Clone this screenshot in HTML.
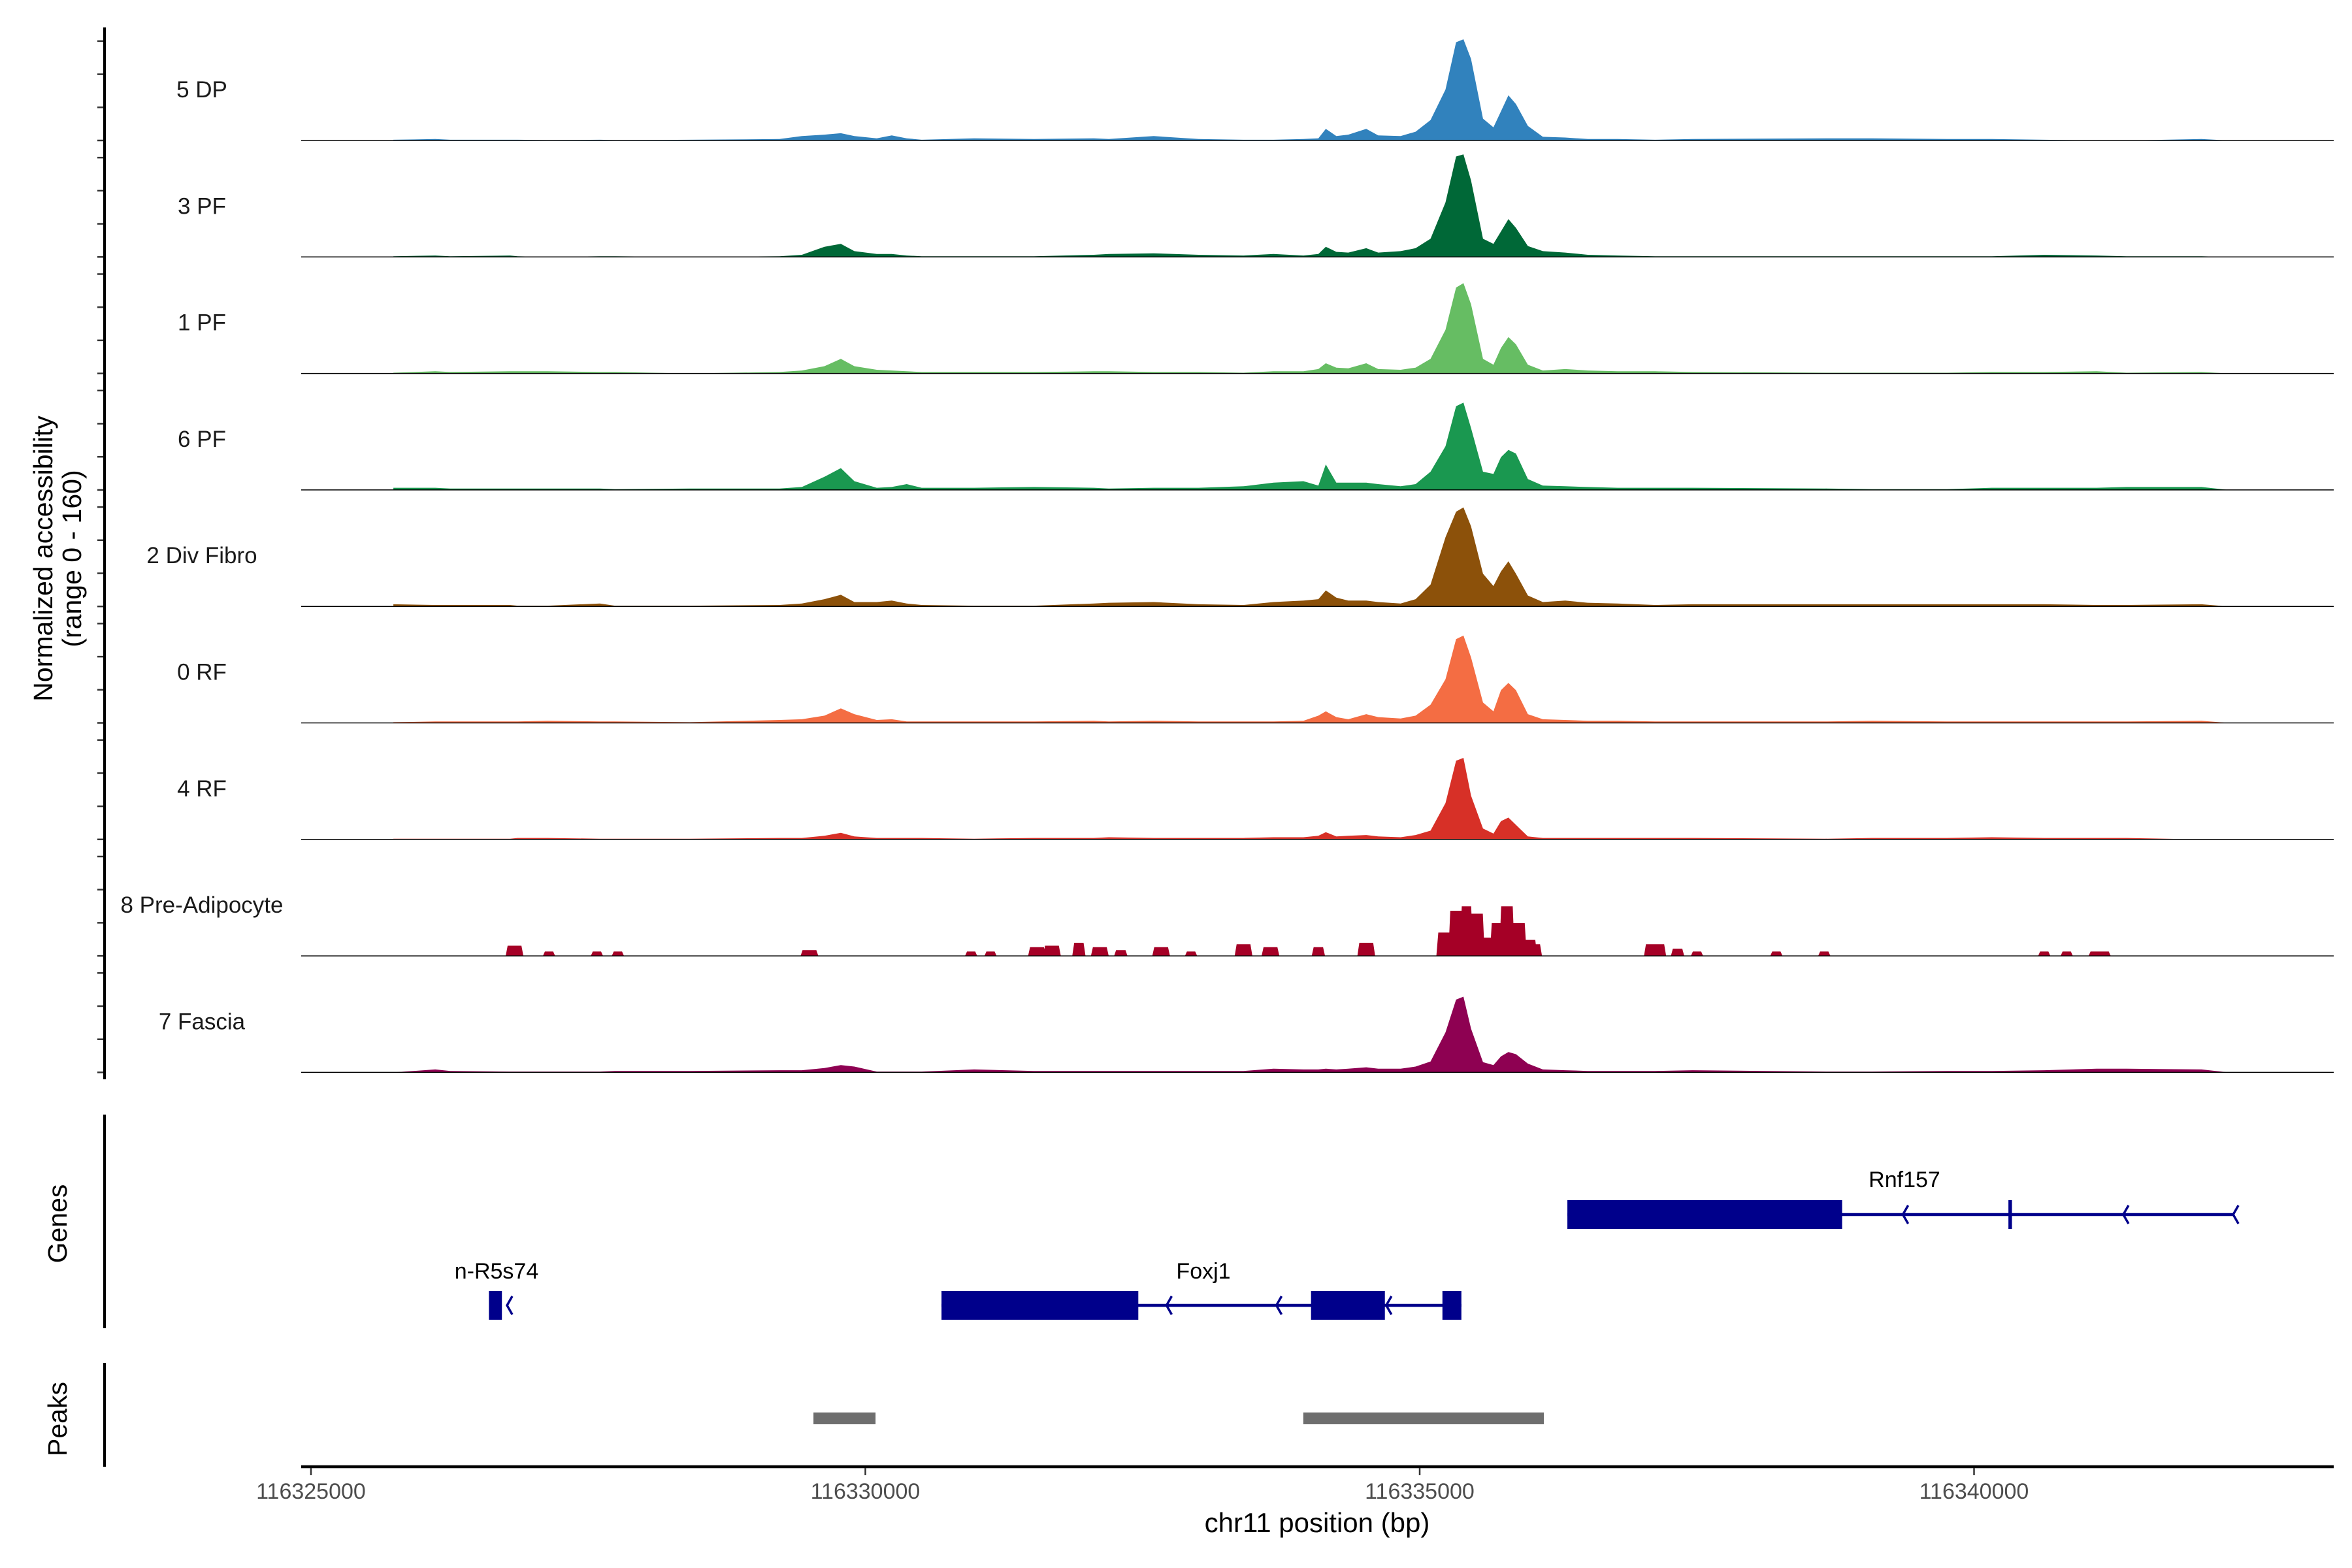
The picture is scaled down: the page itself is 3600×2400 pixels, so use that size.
<!DOCTYPE html>
<html><head><meta charset="utf-8">
<style>
html,body{margin:0;padding:0;background:#fff;}
svg{display:block;font-family:"Liberation Sans",Arial,sans-serif;}
</style></head>
<body>
<svg id="chart" width="3600" height="2400" viewBox="0 0 3600 2400" xmlns="http://www.w3.org/2000/svg">
  <g id="tracks"></g>
  <g id="genes"></g>
  <g id="peaks"></g>
  <g id="axes"></g>
</svg>
<script>
// ---------- data ----------
const chromStart = 116325000;
const xTickValues = [116325000, 116330000, 116335000, 116340000];
const xTickLabels = ["116325000", "116330000", "116335000", "116340000"];
const trackNames = ["5 DP", "3 PF", "1 PF", "6 PF", "2 Div Fibro", "0 RF", "4 RF", "8 Pre-Adipocyte", "7 Fascia"];
const trackColors = ["#3182bd", "#006837", "#66bd63", "#1a9850", "#8c510a", "#f46d43", "#d73027", "#a50026", "#8e0152"];
// bin positions (bp offset from chromStart)
const binOffsets = [743,1121,1256,1796,1863,2133,2606,2741,3416,4226,4428,4631,4779,4901,5103,5238,5373,5508,5981,6521,7061,7196,7601,8006,8411,8681,8951,9086,9153,9248,9356,9518,9626,9828,9963,10098,10233,10328,10395,10463,10571,10665,10733,10800,10868,10976,11111,11313,11516,11786,12123,12461,13676,14081,14756,15161,15633,16106,16376,17051,17294];
const dp5 = [1,2,1,1,1,0.5,1,0.5,1,2,6,8,10,6,3,7,3,1,3,2,3,2,6,2,1,1,2,3,16,6,8,16,7,6,12,28,70,135,139,112,30,18,40,62,50,20,5,4,2,2,1,2,3,3,2,2,1,0,0,2,0];
const pf3 = [1,2,1,2,1,0,1,1,0,1,3,14,18,8,4,4,2,1,1,1,3,4,5,3,2,4,2,4,14,7,6,12,6,8,12,25,75,138,141,105,25,18,35,52,40,15,8,6,3,2,1,1,1,1,1,1,3,2,1,1,0];
const pf1 = [1,3,2,3,3,3,2,2,0,2,4,10,20,10,5,4,3,2,2,2,3,3,2,2,1,3,3,6,14,8,7,14,6,5,8,20,60,118,124,95,20,12,35,50,40,12,4,6,4,3,3,2,1,1,1,2,2,3,1,2,0];
const pf6 = [3,3,2,2,2,2,2,1,2,2,4,18,30,12,3,4,8,3,3,4,3,2,3,3,5,10,12,6,35,10,10,10,8,5,8,25,60,115,120,85,25,22,45,55,50,15,6,5,4,3,3,3,2,1,1,3,3,3,4,4,0];
const divFibro2 = [3,2,2,2,1,1,4,1,1,2,4,10,16,6,6,8,4,2,1,1,4,5,6,3,2,6,8,10,22,12,8,8,6,4,10,30,95,130,136,110,45,28,48,62,45,15,6,8,5,4,2,3,3,3,3,3,3,2,2,3,0];
const rf0 = [1,2,2,2,2,3,2,2,1,4,5,10,20,12,4,5,2,2,2,2,3,2,3,2,2,2,3,10,16,8,5,12,8,6,10,25,60,115,120,90,28,16,45,55,45,12,5,4,3,3,2,2,2,3,2,2,2,2,2,3,0];
const rf4 = [1,1,1,1,2,2,1,1,1,2,2,5,9,4,2,2,2,2,1,2,2,3,2,2,2,3,3,5,10,4,5,6,4,3,6,12,50,108,112,60,15,8,25,30,20,4,2,2,2,2,2,2,1,2,2,3,2,2,2,0,0];
const fascia7 = [0,4,2,1,1,1,1,2,2,3,3,6,10,8,1,1,1,1,4,2,2,2,2,2,2,5,4,4,5,4,5,7,5,5,8,15,55,100,104,60,14,10,22,28,25,12,4,3,2,2,2,3,1,1,2,2,3,5,5,4,0];
// Pre-Adipocyte track is sparse: blocks (center offset bp, half-width bp, value)
const preBlockCenters = [1836,2147,2579,2768,4496,5954,6129,6548,6683,6926,7115,7304,7668,7938,8411,8654,9086,9518,10620,10220,10328,10422,10517,10611,10692,10787,10895,11043,12123,12326,12501,13217,13649,15633,15836,16133];
const preBlockHalfWidths = [80,55,55,55,80,55,55,80,80,60,80,60,80,55,80,80,60,80,440,70,70,60,70,60,60,70,70,60,100,60,55,55,55,55,55,100];
const preBlockValues = [14,6,6,6,8,6,6,12,14,18,12,8,12,6,16,12,12,18,22,32,62,68,58,25,45,68,45,16,16,10,6,6,6,6,6,6];
const trackValues = [dp5, pf3, pf1, pf6, divFibro2, rf0, rf4, null, fascia7];
// genes: exon blocks [startOffset, endOffset]
const rnf157Exons = [[11332,13810],[15310,15342]];
const rnf157Span = [11332,17349];
const rnf157Arrows = [14370,16358,17349];
const foxj1Exons = [[5687,7462],[9020,9686],[10205,10376]];
const foxj1Span = [5687,10376];
const foxj1Arrows = [7728,8719,9710];
const nR5s74Exons = [[1605,1722]];
const nR5s74Arrows = [1780];
const peakRegions = [[4532,5092],[8950,11120]];

// ---------- scales ----------
const NS = "http://www.w3.org/2000/svg";
const X0 = 476, PXPERBP = 0.1697;
function xs(off){ return X0 + off * PXPERBP; }
function xsAbs(bp){ return xs(bp - chromStart); }
const baseY0 = 215, trackStep = 178.3, pxPerUnit = 178.3/160;
function ys(i, v){ return baseY0 + i*trackStep - v*pxPerUnit; }
const plotLeft = 461, plotRight = 3572;

function mk(tag, attrs, parent){
  const e = document.createElementNS(NS, tag);
  for (const k in attrs) e.setAttribute(k, attrs[k]);
  parent.appendChild(e);
  return e;
}

const gT = document.getElementById('tracks');
trackNames.forEach((name, i) => {
  const g = mk('g', {}, gT);
  
  
  const vals = trackValues[i];
  let d = '';
  if (vals) {
    d = 'M' + xs(binOffsets[0]).toFixed(1) + ',' + ys(i,0).toFixed(1);
    for (let k = 0; k < binOffsets.length; k++) {
      d += ' L' + xs(binOffsets[k]).toFixed(1) + ',' + ys(i, vals[k]).toFixed(1);
    }
    d += ' L' + xs(binOffsets[binOffsets.length-1]).toFixed(1) + ',' + ys(i,0).toFixed(1) + ' Z';
  } else {
    for (let k = 0; k < preBlockCenters.length; k++) {
      const c = preBlockCenters[k], hw = preBlockHalfWidths[k], v = preBlockValues[k];
      const xa = xs(c - hw), xb = xs(c + hw), slope = 3;
      d += `M${xa.toFixed(1)},${ys(i,0).toFixed(1)} L${(xa+slope).toFixed(1)},${ys(i,v).toFixed(1)} L${(xb-slope).toFixed(1)},${ys(i,v).toFixed(1)} L${xb.toFixed(1)},${ys(i,0).toFixed(1)} Z `;
    }
  }
  const p = mk('path', {d: d, fill: trackColors[i]}, g);
  
  
  const bl = mk('line', {x1: plotLeft, x2: plotRight, y1: ys(i,0), y2: ys(i,0), stroke: '#000', 'stroke-width': 1.5}, g);
  
  
  const t = mk('text', {x: 309, y: ys(i,0) - 66, 'font-size': 35, 'text-anchor': 'middle', fill: '#1a1a1a'}, g);
  t.textContent = name;
  
  
  for (let k = 0; k < 4; k++) {
    const ty = ys(i,0) - k*50.7;
    const tk = mk('line', {x1: 149, x2: 160, y1: ty, y2: ty, stroke: '#333', 'stroke-width': 2.5}, g);
    
    
  }
});

// genes
const gG = document.getElementById('genes');
const geneCol = '#00008b';
function drawGene(name, exons, span, arrows, lineY, top, bot, labelX, labelY){
  const g = mk('g', {}, gG);
  
  
  if (span) {
    const l = mk('line', {x1: xs(span[0]), x2: xs(span[1]), y1: lineY, y2: lineY, stroke: geneCol, 'stroke-width': 4.5}, g);
    
    
  }
  exons.forEach(ex => {
    const w = Math.max(4, xs(ex[1]) - xs(ex[0]));
    const r = mk('rect', {x: xs(ex[0]), y: top, width: w, height: bot-top, fill: geneCol}, g);
    
    
  });
  arrows.forEach(a => {
    const ax = xs(a);
    const pa = mk('path', {d: `M${ax+6},${lineY-14} L${ax-2},${lineY} L${ax+6},${lineY+14}`, fill: 'none', stroke: geneCol, 'stroke-width': 3.5}, g);
    
    
  });
  const t = mk('text', {x: labelX, y: labelY, 'font-size': 34, 'text-anchor': 'middle', fill: '#000'}, g);
  t.textContent = name;
  
  
}
drawGene('Rnf157', rnf157Exons, rnf157Span, rnf157Arrows, 1859, 1837, 1881, 2915, 1817);
drawGene('Foxj1', foxj1Exons, foxj1Span, foxj1Arrows, 1998, 1976, 2020, 1842, 1957);
drawGene('n-R5s74', nR5s74Exons, null, nR5s74Arrows, 1998, 1976, 2020, 760, 1957);

// peaks
const gP = document.getElementById('peaks');
peakRegions.forEach(pr => {
  const r = mk('rect', {x: xs(pr[0]), y: 2162, width: xs(pr[1]) - xs(pr[0]), height: 18, fill: '#6e6e6e'}, gP);
  
  
});

// axes
const gA = document.getElementById('axes');
const ya = mk('line', {x1: 160, x2: 160, y1: 42, y2: 1652, stroke: '#000', 'stroke-width': 4}, gA);


const ga = mk('line', {x1: 160, x2: 160, y1: 1706, y2: 2033, stroke: '#000', 'stroke-width': 4}, gA);


const pa = mk('line', {x1: 160, x2: 160, y1: 2086, y2: 2245, stroke: '#000', 'stroke-width': 4}, gA);


const xa = mk('line', {x1: plotLeft, x2: plotRight, y1: 2245, y2: 2245, stroke: '#000', 'stroke-width': 4.5}, gA);


xTickValues.forEach((v, i) => {
  const x = xsAbs(v);
  const tk = mk('line', {x1: x, x2: x, y1: 2247, y2: 2258, stroke: '#333', 'stroke-width': 2.5}, gA);
  
  
  const t = mk('text', {x: x, y: 2294, 'font-size': 34, 'text-anchor': 'middle', fill: '#4d4d4d'}, gA);
  t.textContent = xTickLabels[i];
  
  
});
const xt = mk('text', {x: 2016, y: 2345, 'font-size': 42, 'text-anchor': 'middle', fill: '#000'}, gA);
xt.textContent = 'chr11 position (bp)';


const yt = mk('text', {x: 0, y: 0, 'font-size': 41, 'text-anchor': 'middle', fill: '#000', transform: 'translate(80,855) rotate(-90)'}, gA);


const ts1 = mk('tspan', {x: 0, dy: 0}, yt); ts1.textContent = 'Normalized accessibility';
const ts2 = mk('tspan', {x: 0, dy: 44}, yt); ts2.textContent = '(range 0 - 160)';
const gt = mk('text', {x: 0, y: 0, 'font-size': 41, 'text-anchor': 'middle', fill: '#000', transform: 'translate(102,1873) rotate(-90)'}, gA);
gt.textContent = 'Genes';


const pt = mk('text', {x: 0, y: 0, 'font-size': 41, 'text-anchor': 'middle', fill: '#000', transform: 'translate(102,2172) rotate(-90)'}, gA);
pt.textContent = 'Peaks';


</script>
</body></html>
